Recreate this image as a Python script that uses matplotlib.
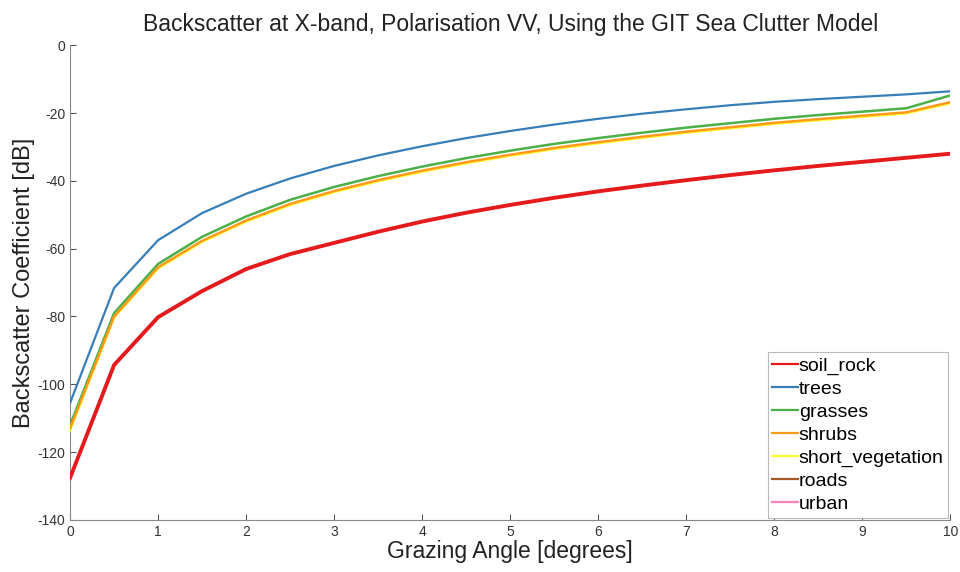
import matplotlib
matplotlib.use("Agg")
import matplotlib.pyplot as plt

plt.rcParams["font.family"] = ["Liberation Sans", "DejaVu Sans"]
plt.rcParams["axes.unicode_minus"] = False

angle = [0, 0.5, 1, 1.5, 2, 2.5, 3, 3.5, 4, 4.5, 5, 5.5, 6, 6.5, 7, 7.5, 8, 8.5, 9, 9.5, 10]

soil_rock = [-127.6, -94.3, -80.2, -72.5, -66.0, -61.6, -58.3, -55.0, -52.0, -49.4, -47.1,
             -45.0, -43.1, -41.4, -39.8, -38.3, -36.9, -35.6, -34.4, -33.2, -32.0]
trees = [-105.5, -71.6, -57.5, -49.5, -43.8, -39.3, -35.6, -32.5, -29.8, -27.4, -25.3,
         -23.4, -21.7, -20.2, -18.9, -17.7, -16.7, -15.9, -15.2, -14.5, -13.6]
grasses = [-112.0, -79.0, -64.5, -56.5, -50.5, -45.6, -41.8, -38.6, -35.8, -33.3, -31.1,
           -29.1, -27.4, -25.8, -24.3, -23.0, -21.7, -20.6, -19.6, -18.6, -14.8]
shrubs = [-113.0, -80.0, -65.5, -57.7, -51.7, -46.8, -43.0, -39.8, -37.0, -34.5, -32.3,
          -30.3, -28.6, -27.0, -25.5, -24.2, -22.9, -21.8, -20.8, -19.8, -16.8]
short_vegetation = [-113.5, -80.3, -65.8, -58.0, -52.0, -47.1, -43.3, -40.1, -37.3, -34.8, -32.6,
                    -30.6, -28.9, -27.3, -25.8, -24.5, -23.2, -22.1, -21.1, -20.1, -17.1]
roads = soil_rock
urban = soil_rock

series = [
    ("soil_rock", soil_rock, "#e41a1c", 2.8, 5),
    ("trees", trees, "#377eb8", 1.6, 4),
    ("grasses", grasses, "#4daf4a", 1.8, 4),
    ("shrubs", shrubs, "#ff9a1a", 1.8, 4),
    ("short_vegetation", short_vegetation, "#ffff33", 1.8, 3),
    ("roads", roads, "#a65628", 1.6, 2),
    ("urban", urban, "#f781bf", 1.6, 2),
]

fig = plt.figure(figsize=(9.6, 5.72), dpi=100)
ax = fig.add_axes([0.073, 0.091, 0.917, 0.830])

for name, vals, color, lw, z in series:
    ax.plot(angle, vals, color=color, lw=lw, label=name, zorder=z)

ax.set_xlim(0, 10)
ax.set_ylim(-140, 0)
ax.set_xticks(range(0, 11))
ax.set_yticks(range(-140, 1, 20))
ax.tick_params(direction="in", length=4, labelsize=10, colors="#555555", labelcolor="#333333")
for side in ("top", "right"):
    ax.spines[side].set_visible(False)
for side in ("left", "bottom"):
    ax.spines[side].set_color("#888888")

ax.set_title("Backscatter at X-band, Polarisation VV, Using the GIT Sea Clutter Model",
             fontsize=16.5, color="#222222", pad=10)
ax.set_xlabel("Grazing Angle [degrees]", fontsize=16.5, color="#222222", labelpad=1)
ax.set_ylabel("Backscatter Coefficient [dB]", fontsize=17, color="#222222", labelpad=2)

leg = ax.legend(loc="lower right", fontsize=14, handlelength=1.3, handletextpad=0.05,
                labelspacing=0.28, borderpad=0.25, borderaxespad=0.1, fancybox=False,
                frameon=True, framealpha=1)
leg.get_frame().set_edgecolor("#bbbbbb")
leg.get_frame().set_linewidth(0.8)
for line in leg.get_lines():
    line.set_linewidth(1.6)

fig.savefig("out.png", dpi=100)
